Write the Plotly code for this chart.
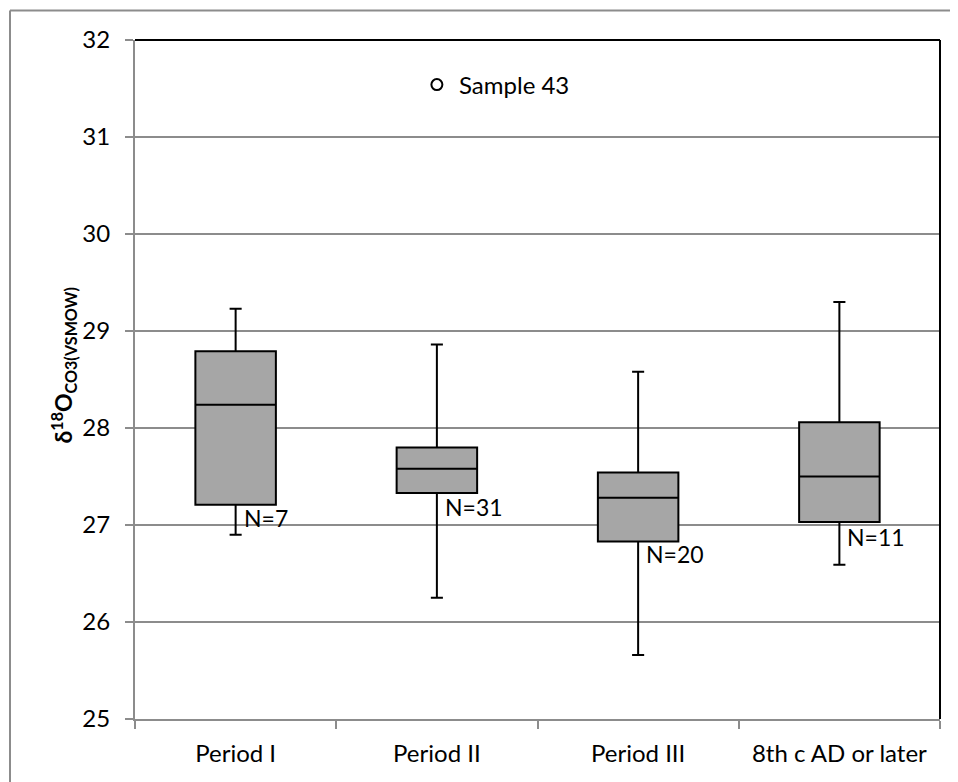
import plotly.graph_objects as go

categories = ["Period I", "Period II", "Period III", "8th c AD or later"]
q1 = [27.21, 27.33, 26.83, 27.03]
median = [28.24, 27.58, 27.28, 27.50]
q3 = [28.79, 27.80, 27.54, 28.06]
lower = [26.90, 26.25, 25.66, 26.59]
upper = [29.23, 28.86, 28.58, 29.30]
n_labels = ["N=7", "N=31", "N=20", "N=11"]
n_label_y = [27.07, 27.19, 26.70, 26.88]
outlier_cat = ["Period II"]
outlier_y = [31.54]
outlier_label = "Sample 43"
y_ticks = [25, 26, 27, 28, 29, 30, 31, 32]

FONT = "Lato, Carlito, Calibri, sans-serif"

# page has an 8px body margin; figure is sized/offset to compensate
OFF = 8
W, H = 958 - OFF, 782 - OFF
L, R, T, B = 135 - OFF, 18, 40 - OFF, 63
pw, ph = W - L - R, H - T - B

def px_x(p):
    return (p - OFF - L) / pw

def px_y(p):
    return (H - B - (p - OFF)) / ph

fig = go.Figure()
fig.add_trace(go.Box(
    x=categories, q1=q1, median=median, q3=q3,
    lowerfence=lower, upperfence=upper,
    fillcolor="#A6A6A6", line=dict(color="black", width=2),
    whiskerwidth=0.15, width=0.4, boxpoints=False, showlegend=False,
))
fig.add_trace(go.Scatter(
    x=outlier_cat, y=outlier_y, mode="markers",
    marker=dict(symbol="circle-open", size=11, color="black", line=dict(width=2)),
    showlegend=False,
))

annotations = []
for c, t, yy in zip(categories, n_labels, n_label_y):
    annotations.append(dict(x=c, y=yy, text=t, showarrow=False, xanchor="left",
                            yanchor="middle", xshift=6,
                            font=dict(family=FONT, size=23, color="black")))
annotations.append(dict(x=outlier_cat[0], y=outlier_y[0], text=outlier_label, showarrow=False,
                        xanchor="left", yanchor="middle", xshift=20,
                        font=dict(family=FONT, size=24, color="black")))
annotations.append(dict(x=px_x(63), y=0.5, xref="paper", yref="paper",
                        text="<b>δ<sup>18</sup>O<sub>CO3(VSMOW)</sub></b>",
                        textangle=-90, showarrow=False, xanchor="center", yanchor="middle",
                        yshift=14,
                        font=dict(family=FONT, size=23, color="black")))

shapes = [
    dict(type="line", xref="paper", yref="paper", x0=0, x1=1, y0=1, y1=1,
         line=dict(color="black", width=2)),
    dict(type="line", xref="paper", yref="paper", x0=1, x1=1, y0=0, y1=1,
         line=dict(color="black", width=2)),
    dict(type="line", xref="paper", yref="paper", x0=px_x(10), x1=px_x(960),
         y0=px_y(10.5), y1=px_y(10.5), line=dict(color="#8C8C8C", width=2)),
    dict(type="line", xref="paper", yref="paper", x0=px_x(10), x1=px_x(10),
         y0=px_y(10.5), y1=px_y(790), line=dict(color="#8C8C8C", width=2)),
]

fig.update_layout(
    width=W, height=H,
    margin=dict(l=L, r=R, t=T, b=B, pad=0),
    paper_bgcolor="white", plot_bgcolor="white",
    font=dict(family=FONT, color="black"),
    annotations=annotations, shapes=shapes,
    xaxis=dict(type="category", range=[-0.5, 3.5], showgrid=False,
               showline=True, linecolor="#8C8C8C", linewidth=2,
               ticks="outside", tickson="boundaries", ticklen=8, tickcolor="#8C8C8C",
               tickwidth=1.5, tickfont=dict(family=FONT, size=24, color="black"),
               ticklabelstandoff=12, zeroline=False),
    yaxis=dict(range=[25, 32], tickvals=y_ticks, showgrid=True, gridcolor="#8C8C8C",
               gridwidth=1.5, showline=True, linecolor="#8C8C8C", linewidth=2,
               ticks="outside", ticklen=8, tickcolor="#8C8C8C", tickwidth=1.5,
               tickfont=dict(family=FONT, size=24, color="black"),
               ticklabelstandoff=10, zeroline=False),
)

fig.write_html("out.html")
